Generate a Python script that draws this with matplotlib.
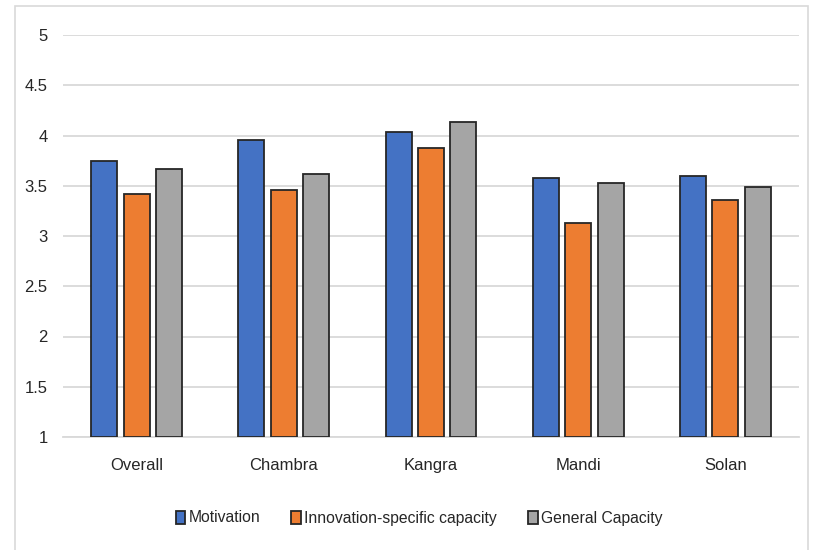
import matplotlib.pyplot as plt
import numpy as np
from matplotlib.patches import Rectangle

# district scores
districts = ['Overall', 'Chambra', 'Kangra', 'Mandi', 'Solan']
motivation = [3.75, 3.96, 4.03, 3.58, 3.60]
innovation = [3.42, 3.46, 3.88, 3.13, 3.36]
general = [3.67, 3.62, 4.13, 3.53, 3.49]
series_names = ['Motivation', 'Innovation-specific capacity', 'General Capacity']
colors = ['#4472C4', '#ED7D31', '#A5A5A5']

plt.rcParams['font.family'] = ['Liberation Sans', 'DejaVu Sans']

fig = plt.figure(figsize=(8.17, 5.5), dpi=100)
# outer chart border
fig.patches.append(Rectangle((15 / 817, -0.01), 793 / 817, 1 - 6 / 550 + 0.01,
                             transform=fig.transFigure, fill=False,
                             edgecolor='#D9D9D9', linewidth=1.2))

ax = fig.add_axes([63 / 817, 113 / 550, 736 / 817, 402 / 550])

x = np.arange(len(districts))
slot = 0.22
width = 0.177
for i, (vals, name, c) in enumerate(zip([motivation, innovation, general], series_names, colors)):
    ax.bar(x + (i - 1) * slot, np.array(vals) - 1, width, bottom=1, color=c,
           edgecolor='#262626', linewidth=1.3, label=name, zorder=3)

ax.set_ylim(1, 5)
ax.set_xlim(-0.5, len(districts) - 0.5)
ax.set_yticks(np.arange(1, 5.01, 0.5))
ax.set_yticklabels(['1', '1.5', '2', '2.5', '3', '3.5', '4', '4.5', '5'])
ax.set_xticks(x)
ax.set_xticklabels(districts)
ax.tick_params(length=0, labelsize=12, colors='#262626')
ax.tick_params(axis='y', pad=11)
ax.tick_params(axis='x', pad=15)
ax.grid(axis='y', color='#D9D9D9', linewidth=1.3, zorder=0)
for s in ['top', 'right', 'left']:
    ax.spines[s].set_visible(False)
ax.spines['bottom'].set_color('#D9D9D9')
ax.spines['bottom'].set_linewidth(1.3)

ax.legend(loc='center', bbox_to_anchor=(419 / 817, 1 - 518 / 550),
          bbox_transform=fig.transFigure, ncol=3, frameon=False,
          fontsize=11.3, handlelength=0.6, handleheight=0.9,
          handletextpad=0.2, columnspacing=2.0, labelcolor='#262626')

fig.savefig('out.png', dpi=100)
